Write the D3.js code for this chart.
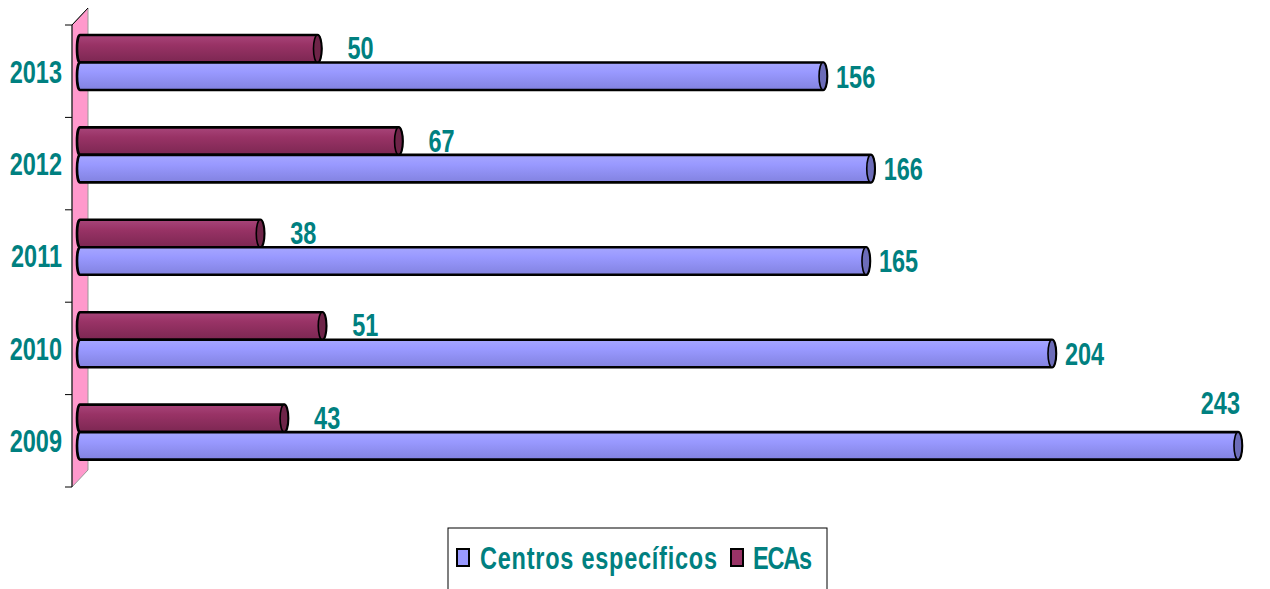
<!DOCTYPE html>
<html>
<head>
<meta charset="utf8" />
<script src="https://cdn.jsdelivr.net/npm/d3@7"></script>
<style>
  body { margin: 0; background: #fff; }
  svg { display: block; }
  .lbl { font-family: "Liberation Sans Narrow", "Arial Narrow", "Liberation Sans", Arial, sans-serif; font-weight: bold; fill: #008080; }
</style>
</head>
<body>
<script>
var years = ["2013", "2012", "2011", "2010", "2009"];
var centros = [156, 166, 165, 204, 243];
var ecas = [50, 67, 38, 51, 43];
var seriesNames = ["Centros específicos", "ECAs"];

var w = 1270, h = 589;
var svg = d3.select("body").append("svg").attr("width", w).attr("height", h);

var defs = svg.append("defs");
function grad(id, c1, c2, c3) {
  var g = defs.append("linearGradient").attr("id", id)
    .attr("x1", 0).attr("y1", 0).attr("x2", 0).attr("y2", 1);
  g.append("stop").attr("offset", "0%").attr("stop-color", c1);
  g.append("stop").attr("offset", "35%").attr("stop-color", c2);
  g.append("stop").attr("offset", "100%").attr("stop-color", c3);
}
grad("gBlue", "#a6a6ff", "#9999ff", "#8282e0");
grad("gRed", "#a8457a", "#993366", "#7c2752");

var x = d3.scaleLinear().domain([0, 243]).range([79, 1238]);
var y = d3.scaleBand().domain(years).range([25, 487]);
var barH = 27.5;
var fs = 23.5, sy = 1.37;

// pink back wall
var wallTop = 25, wallBot = 487, dx = 16, dy = 17;
svg.append("path")
  .attr("d", "M72," + wallTop + "L" + (72 + dx) + "," + (wallTop - dy) + "L" + (72 + dx) + "," + (wallBot - dy) + "L72," + wallBot + "Z")
  .attr("fill", "#ff99cc").attr("stroke", "#999").attr("stroke-width", 1);
svg.append("line").attr("x1", 72).attr("y1", wallTop).attr("x2", 72 + dx).attr("y2", wallTop - dy)
  .attr("stroke", "#000").attr("stroke-width", 1);
svg.append("line").attr("x1", 72).attr("y1", wallTop).attr("x2", 72).attr("y2", wallBot)
  .attr("stroke", "#000").attr("stroke-width", 1);

// ticks
var tickYs = years.map(function(d) { return y(d); }).concat([wallBot]);
svg.selectAll(".tick").data(tickYs).enter().append("line")
  .attr("x1", 65).attr("x2", 72)
  .attr("y1", function(d) { return d; }).attr("y2", function(d) { return d; })
  .attr("stroke", "#000").attr("stroke-width", 1);

// year labels
svg.selectAll(".ylab").data(years).enter().append("text")
  .attr("class", "lbl")
  .attr("transform", function(d) { return "translate(62," + (y(d) + y.bandwidth() / 2) + ") scale(1," + sy + ")"; })
  .attr("text-anchor", "end").attr("dominant-baseline", "central")
  .attr("font-size", fs)
  .text(function(d) { return d; });

function cylinder(g, x0, x1, yt, fillId, capColor) {
  var r = 4, hh = barH / 2;
  g.append("path")
    .attr("d", "M" + x0 + "," + yt + "L" + x1 + "," + yt +
      "A" + r + "," + hh + " 0 0 1 " + x1 + "," + (yt + barH) +
      "L" + x0 + "," + (yt + barH) +
      "A" + (r - 1) + "," + hh + " 0 0 1 " + x0 + "," + yt + "Z")
    .attr("fill", "url(#" + fillId + ")")
    .attr("stroke", "#000").attr("stroke-width", 2.6).attr("stroke-linejoin", "round");
  g.append("ellipse")
    .attr("cx", x1).attr("cy", yt + hh).attr("rx", r).attr("ry", hh)
    .attr("fill", capColor).attr("stroke", "#000").attr("stroke-width", 1.6);
}

var data = years.map(function(d, i) { return { year: d, c: centros[i], e: ecas[i] }; });

var bars = svg.append("g");
data.forEach(function(d) {
  var top = y(d.year) + 10;
  cylinder(bars, x(0) + 1, x(d.e), top, "gRed", "#6e2448");
  cylinder(bars, x(0) + 1, x(d.c), top + barH, "gBlue", "#6c6cb8");
});

// value labels
var lab = svg.append("g");
data.forEach(function(d) {
  var top = y(d.year) + 10;
  lab.append("text").attr("class", "lbl")
    .attr("transform", "translate(" + (x(d.e) + 30) + "," + (top + barH / 2 - 1) + ") scale(1," + sy + ")")
    .attr("dominant-baseline", "central").attr("font-size", fs)
    .text(d.e);
  var xe = x(d.c) + 13, yc = top + barH * 1.5;
  var anchor = "start";
  if (xe + 40 > w) { xe = x(d.c) + 2; yc = top - 2; anchor = "end"; }
  lab.append("text").attr("class", "lbl")
    .attr("transform", "translate(" + xe + "," + yc + ") scale(1," + sy + ")")
    .attr("text-anchor", anchor)
    .attr("dominant-baseline", "central").attr("font-size", fs)
    .text(d.c);
});

// legend
var leg = svg.append("g");
leg.append("rect").attr("x", 448).attr("y", 528).attr("width", 379).attr("height", 80)
  .attr("fill", "#fff").attr("stroke", "#000").attr("stroke-width", 1);
var legItems = [
  { name: seriesNames[0], color: "#9999ff", sx: 457, tx: 480, tw: 237 },
  { name: seriesNames[1], color: "#993366", sx: 731, tx: 753, tw: 59 }
];
legItems.forEach(function(it) {
  leg.append("rect").attr("x", it.sx).attr("y", 549).attr("width", 12).attr("height", 17)
    .attr("fill", it.color).attr("stroke", "#000").attr("stroke-width", 2);
  leg.append("text").attr("class", "lbl")
    .attr("transform", "translate(" + it.tx + ",558) scale(1," + sy + ")")
    .attr("dominant-baseline", "central").attr("font-size", fs)
    .attr("textLength", it.tw).attr("lengthAdjust", "spacing")
    .text(it.name);
});
</script>
</body>
</html>
